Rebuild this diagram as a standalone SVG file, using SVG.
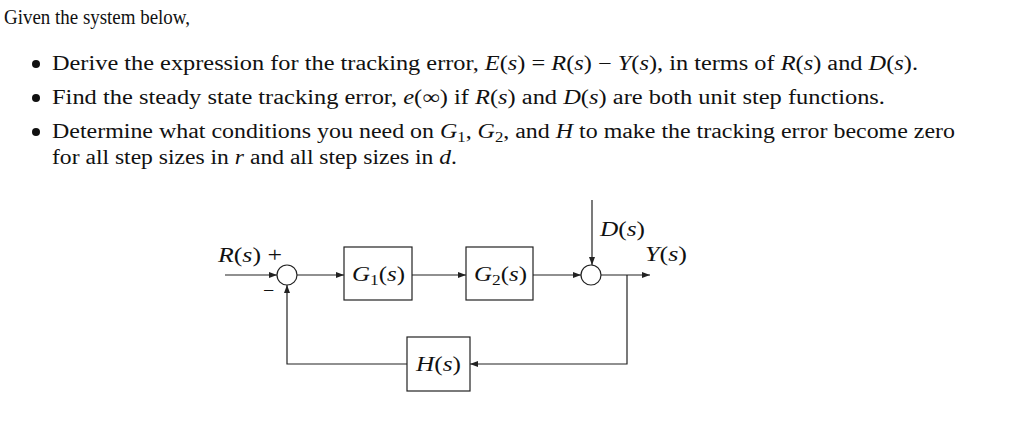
<svg xmlns="http://www.w3.org/2000/svg" width="1024" height="448" viewBox="0 0 1024 448">
<style>
text{font-family:"Liberation Serif","DejaVu Serif",serif;font-size:20px;fill:#111}
.m{font-style:italic}
.b{fill:none;stroke:#222;stroke-width:1.2}
.l{fill:none;stroke:#222;stroke-width:1.2;marker-end:url(#a)}
</style>
<defs><marker id="a" markerWidth="8" markerHeight="6" refX="8" refY="3" orient="auto" markerUnits="userSpaceOnUse"><path d="M0,0L8,3L0,6z" fill="#222"/></marker></defs>
<rect width="1024" height="448" fill="#fff"/>
<text x="4" y="24" textLength="186" lengthAdjust="spacingAndGlyphs">Given the system below,</text>
<circle cx="36" cy="64" r="4" fill="#111"/><circle cx="36" cy="98" r="4" fill="#111"/><circle cx="36" cy="132" r="4" fill="#111"/>
<text x="52" y="70" textLength="866" lengthAdjust="spacingAndGlyphs">Derive the expression for the tracking error, <tspan class="m">E</tspan>(<tspan class="m">s</tspan>) = <tspan class="m">R</tspan>(<tspan class="m">s</tspan>) − <tspan class="m">Y</tspan>(<tspan class="m">s</tspan>), in terms of <tspan class="m">R</tspan>(<tspan class="m">s</tspan>) and <tspan class="m">D</tspan>(<tspan class="m">s</tspan>).</text>
<text x="52" y="104" textLength="833" lengthAdjust="spacingAndGlyphs">Find the steady state tracking error, <tspan class="m">e</tspan>(∞) if <tspan class="m">R</tspan>(<tspan class="m">s</tspan>) and <tspan class="m">D</tspan>(<tspan class="m">s</tspan>) are both unit step functions.</text>
<text x="52" y="138" textLength="903" lengthAdjust="spacingAndGlyphs">Determine what conditions you need on <tspan class="m">G</tspan><tspan font-size="14" dy="4">1</tspan><tspan dy="-4">, </tspan><tspan class="m">G</tspan><tspan font-size="14" dy="4">2</tspan><tspan dy="-4">, and </tspan><tspan class="m">H</tspan> to make the tracking error become zero</text>
<text x="52" y="164" textLength="405" lengthAdjust="spacingAndGlyphs">for all step sizes in <tspan class="m">r</tspan> and all step sizes in <tspan class="m">d</tspan>.</text>
<g id="connectors">
<path class="l" d="M225,275H277"/>
<path class="l" d="M297,275H344"/>
<path class="l" d="M412,275H466"/>
<path class="l" d="M533,275H581"/>
<path class="l" d="M592,200V265"/>
<path class="l" d="M601,275H650"/>
<path class="l" d="M627,275V364H470"/>
<path class="l" d="M407,364H287V285"/>
</g>
<g id="sum1"><circle class="b" cx="287" cy="275" r="10"/><text x="218" y="262" textLength="64" lengthAdjust="spacingAndGlyphs"><tspan class="m">R</tspan>(<tspan class="m">s</tspan>) +</text><text x="263" y="297">−</text></g>
<g id="G1"><rect class="b" x="344" y="247" width="68" height="53"/><text x="352" y="281" textLength="53" lengthAdjust="spacingAndGlyphs"><tspan class="m">G</tspan><tspan font-size="14" dy="4">1</tspan><tspan dy="-4">(</tspan><tspan class="m">s</tspan>)</text></g>
<g id="G2"><rect class="b" x="466" y="247" width="67" height="53"/><text x="474" y="281" textLength="53" lengthAdjust="spacingAndGlyphs"><tspan class="m">G</tspan><tspan font-size="14" dy="4">2</tspan><tspan dy="-4">(</tspan><tspan class="m">s</tspan>)</text></g>
<g id="sum2"><circle class="b" cx="591" cy="275" r="10"/><text x="600" y="236" textLength="45" lengthAdjust="spacingAndGlyphs"><tspan class="m">D</tspan>(<tspan class="m">s</tspan>)</text><text x="645" y="261" textLength="42" lengthAdjust="spacingAndGlyphs"><tspan class="m">Y</tspan>(<tspan class="m">s</tspan>)</text></g>
<g id="H"><rect class="b" x="407" y="337" width="63" height="54"/><text x="416" y="371" textLength="45" lengthAdjust="spacingAndGlyphs"><tspan class="m">H</tspan>(<tspan class="m">s</tspan>)</text></g>
</svg>
